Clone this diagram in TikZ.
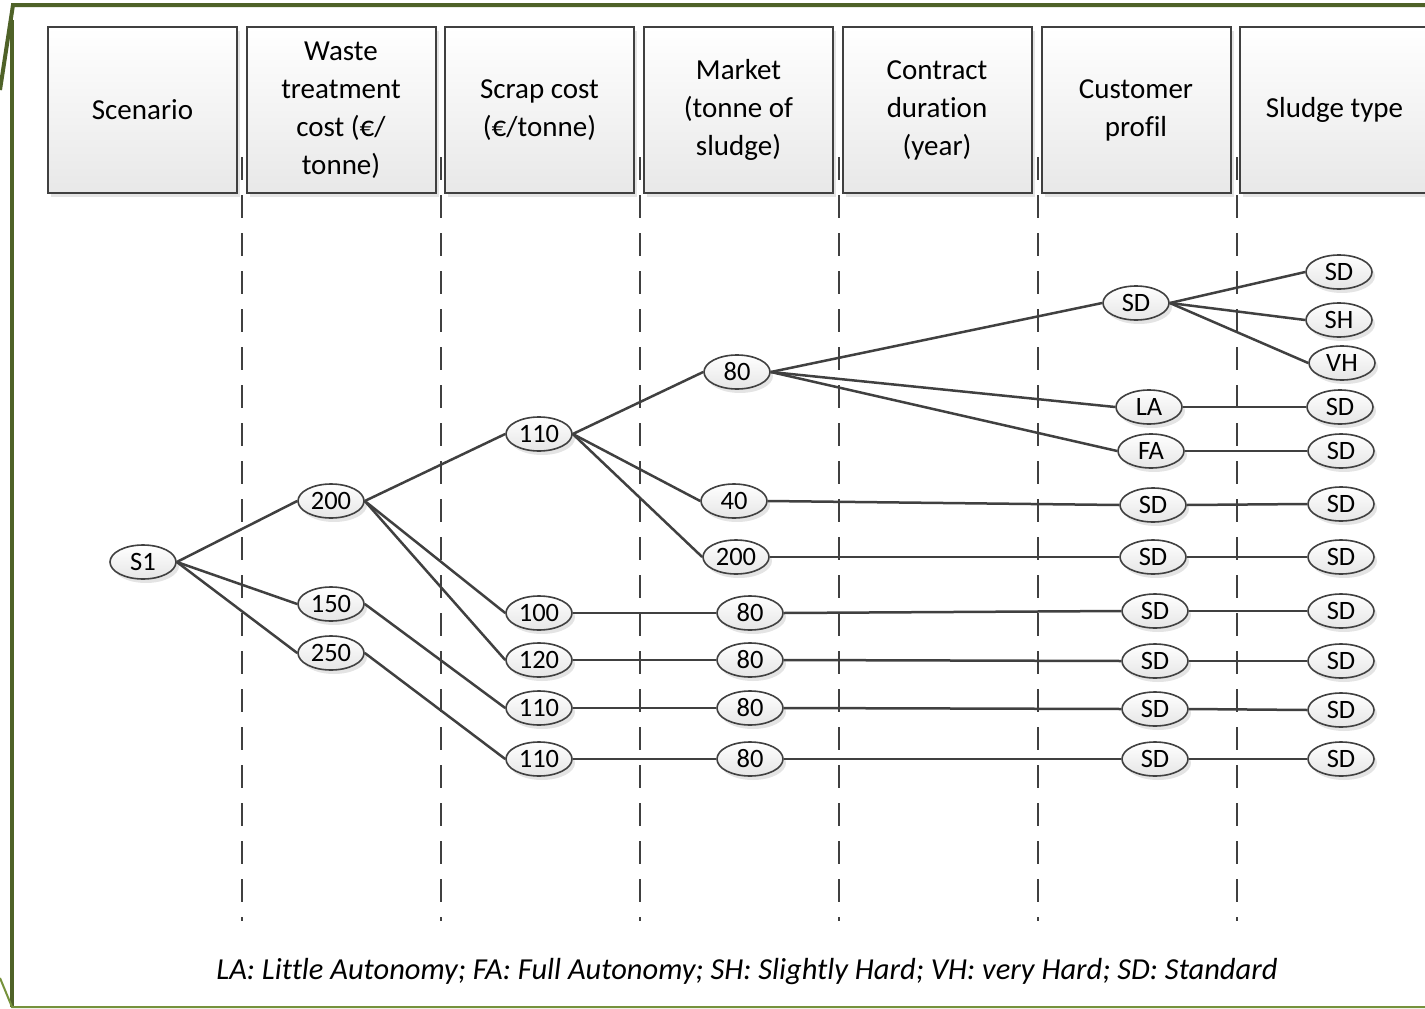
\documentclass[tikz,border=0pt]{standalone}
\usepackage{fontspec}
\setmainfont{Carlito}[Ligatures=NoCommon]
\usetikzlibrary{shapes.geometric,shadows}
\definecolor{framegreen}{HTML}{4F6228}
\definecolor{framelight}{HTML}{76923C}
\definecolor{ink}{HTML}{404040}
\tikzset{
  softshadow/.style={drop shadow={shadow xshift=3pt, shadow yshift=-4pt, fill=black!15, opacity=0.7}},
  colbox/.style={draw=ink, line width=2pt, top color=white, bottom color=black!9,
    minimum width=189pt, minimum height=166pt, align=center, inner sep=0pt,
    font=\fontsize{29}{38}\selectfont, softshadow},
  val/.style={ellipse, draw=ink, line width=1.6pt, top color=white, bottom color=black!10,
    minimum width=66pt, minimum height=34pt, inner sep=0pt,
    font=\fontsize{26.5}{26}\selectfont, softshadow},
  link/.style={draw=ink, line width=2.5pt},
  sep/.style={draw=ink, line width=2.4pt, dash pattern=on 23pt off 15pt}
}
\begin{document}
\begin{tikzpicture}[x=1pt, y=-1pt]
      \useasboundingbox (0,0) rectangle (1425,1009);
      % frame
      \draw[framegreen, line width=4pt] (0,90) -- (13,5) -- (1430,5);
      \draw[framegreen, line width=3.5pt] (12,20) -- (12,1007);
      \draw[framelight, line width=2pt] (0,978) -- (12,1007) -- (1430,1007);
      % column separators
      \foreach \x in {242,441,640,839,1038,1237}
        \draw[sep] (\x,157) -- (\x,921);
      % column headers
      \node[colbox] (hscen) at (142.5,110) {Scenario};
      \node[colbox] (hwaste) at (341,110) {Waste\\treatment\\cost (€/\\tonne)};
      \node[colbox] (hscrap) at (539.5,110) {Scrap cost\\(€/tonne)};
      \node[colbox] (hmarket) at (738.5,110) {Market\\(tonne of\\sludge)};
      \node[colbox] (hcontract) at (937,110) {Contract\\duration\\(year)};
      \node[colbox] (hcustomer) at (1136,110) {Customer\\profil};
      \node[colbox] (hsludge) at (1334.5,110) {Sludge type};
      % values
      \node[val] (s1) at (143,562) {S1};
      \node[val] (w200) at (331,501) {200};
      \node[val] (w150) at (331,604) {150};
      \node[val] (w250) at (331,653) {250};
      \node[val] (c110a) at (539,434) {110};
      \node[val] (c100) at (539,613) {100};
      \node[val] (c120) at (539,660) {120};
      \node[val] (c110b) at (539,708) {110};
      \node[val] (c110c) at (539,759) {110};
      \node[val] (m80a) at (737,372) {80};
      \node[val] (m40) at (734,501) {40};
      \node[val] (m200) at (736,557) {200};
      \node[val] (m80b) at (750,613) {80};
      \node[val] (m80c) at (750,660) {80};
      \node[val] (m80d) at (750,708) {80};
      \node[val] (m80e) at (750,759) {80};
      \node[val] (pSDa) at (1136,303) {SD};
      \node[val] (pLA) at (1149,407) {LA};
      \node[val] (pFA) at (1151,451) {FA};
      \node[val] (pSDb) at (1153,505) {SD};
      \node[val] (pSDc) at (1153,557) {SD};
      \node[val] (pSDd) at (1155,611) {SD};
      \node[val] (pSDe) at (1155,661) {SD};
      \node[val] (pSDf) at (1155,709) {SD};
      \node[val] (pSDg) at (1155,759) {SD};
      \node[val] (tSDa) at (1339,272) {SD};
      \node[val] (tSH) at (1339,320) {SH};
      \node[val] (tVH) at (1342,363) {VH};
      \node[val] (tSDb) at (1340,407) {SD};
      \node[val] (tSDc) at (1341,451) {SD};
      \node[val] (tSDd) at (1341,504) {SD};
      \node[val] (tSDe) at (1341,557) {SD};
      \node[val] (tSDf) at (1341,611) {SD};
      \node[val] (tSDg) at (1341,661) {SD};
      \node[val] (tSDh) at (1341,710) {SD};
      \node[val] (tSDi) at (1341,759) {SD};
      \begin{scope}[link]
        \draw (s1.east) to (w200.west);
        \draw (s1.east) to (w150.west);
        \draw (s1.east) to (w250.west);
        \draw (w200.east) to (c110a.west);
        \draw (w200.east) to (c100.west);
        \draw (w200.east) to (c120.west);
        \draw (w150.east) to (c110b.west);
        \draw (w250.east) to (c110c.west);
        \draw (c110a.east) to (m80a.west);
        \draw (c110a.east) to (m40.west);
        \draw (c110a.east) to (m200.west);
        \draw (c100.east) to (m80b.west);
        \draw (c120.east) to (m80c.west);
        \draw (c110b.east) to (m80d.west);
        \draw (c110c.east) to (m80e.west);
        \draw (m80a.east) to (pSDa.west);
        \draw (m80a.east) to (pLA.west);
        \draw (m80a.east) to (pFA.west);
        \draw (m40.east) to (pSDb.west);
        \draw (m200.east) to (pSDc.west);
        \draw (m80b.east) to (pSDd.west);
        \draw (m80c.east) to (pSDe.west);
        \draw (m80d.east) to (pSDf.west);
        \draw (m80e.east) to (pSDg.west);
        \draw (pSDa.east) to (tSDa.west);
        \draw (pSDa.east) to (tSH.west);
        \draw (pSDa.east) to (tVH.west);
        \draw (pLA.east) to (tSDb.west);
        \draw (pFA.east) to (tSDc.west);
        \draw (pSDb.east) to (tSDd.west);
        \draw (pSDc.east) to (tSDe.west);
        \draw (pSDd.east) to (tSDf.west);
        \draw (pSDe.east) to (tSDg.west);
        \draw (pSDf.east) to (tSDh.west);
        \draw (pSDg.east) to (tSDi.west);
      \end{scope}
      % legend
      \node[font=\fontsize{30.5}{30}\selectfont\itshape] (legend) at (747,972)
        {LA: Little Autonomy; FA: Full Autonomy; SH: Slightly Hard; VH: very Hard; SD: Standard};
    \end{tikzpicture}
\end{document}
